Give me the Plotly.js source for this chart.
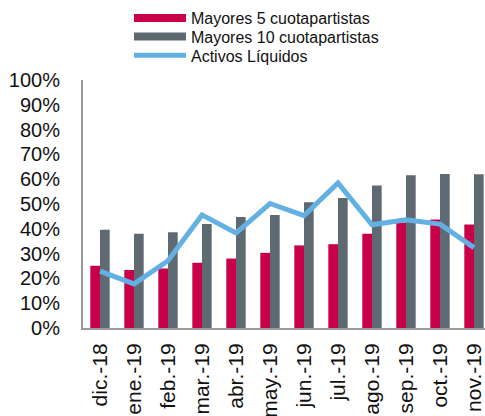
<!DOCTYPE html>
<html>
<head>
<meta charset="utf-8">
<script src="https://cdn.plot.ly/plotly-3.0.1.min.js"></script>
<style>
html,body{margin:0;padding:0;overflow:hidden;background:#fff;}
#chart{width:492px;height:416px;}
</style>
</head>
<body>
<div id="chart"></div>
<script>
const categories = ["dic.-18","ene.-19","feb.-19","mar.-19","abr.-19","may.-19","jun.-19","jul.-19","ago.-19","sep.-19","oct.-19","nov.-19"];
const mayores5 = [0.251,0.234,0.240,0.263,0.280,0.303,0.333,0.338,0.380,0.425,0.437,0.417];
const mayores10 = [0.396,0.380,0.386,0.419,0.448,0.456,0.507,0.524,0.575,0.616,0.621,0.620];
const activosLiquidos = [0.229,0.178,0.271,0.456,0.383,0.502,0.453,0.585,0.416,0.436,0.419,0.324];
const seriesNames = ["Mayores 5 cuotapartistas","Mayores 10 cuotapartistas","Activos Líquidos"];
const colors = ["#C8004A","#5E6A72","#63B0E3"];

const traces = [
  {type:'bar', x:categories, y:mayores5, name:seriesNames[0], marker:{color:colors[0]}, showlegend:false},
  {type:'bar', x:categories, y:mayores10, name:seriesNames[1], marker:{color:colors[1]}, showlegend:false},
  {type:'scatter', mode:'lines', x:categories, y:activosLiquidos, name:seriesNames[2], line:{color:colors[2], width:5}, showlegend:false},
  {type:'scatter', mode:'lines', x:[null], y:[null], name:seriesNames[0], line:{color:colors[0], width:8}, legend:'legend'},
  {type:'scatter', mode:'lines', x:[null], y:[null], name:seriesNames[1], line:{color:colors[1], width:8}, legend:'legend2'},
  {type:'scatter', mode:'lines', x:[null], y:[null], name:seriesNames[2], line:{color:colors[2], width:5}, legend:'legend3'}
];

function leg(y){
  return {orientation:'v', x:0.1127, xanchor:'left', y:y, yanchor:'middle', font:{size:16, color:'#111'}, itemwidth:52, bgcolor:'rgba(0,0,0,0)', borderwidth:0};
}

const layout = {
  width:492, height:416,
  margin:{l:83, r:1, t:76, b:88},
  paper_bgcolor:'#fff', plot_bgcolor:'#fff',
  font:{family:'Liberation Sans, Arial, sans-serif', color:'#111'},
  barmode:'group', bargap:0.43, bargroupgap:0,
  showlegend:true,
  legend:leg(1.25),
  legend2:leg(1.1746),
  legend3:leg(1.0992),
  xaxis:{type:'category', tickangle:-90, tickfont:{size:21, color:'#111'}, showline:true, linecolor:'#9a9a9a', linewidth:2, ticks:'outside', ticklen:5, tickcolor:'rgba(0,0,0,0)', showgrid:false, zeroline:false, fixedrange:true},
  yaxis:{range:[0,1], dtick:0.1, tickformat:'.0%', tickfont:{size:20, color:'#111'}, showline:true, linecolor:'#9a9a9a', linewidth:2, ticks:'outside', ticklen:17, tickcolor:'rgba(0,0,0,0)', showgrid:false, zeroline:false, fixedrange:true}
};

Plotly.newPlot('chart', traces, layout, {displayModeBar:false, staticPlot:true});
</script>
</body>
</html>
